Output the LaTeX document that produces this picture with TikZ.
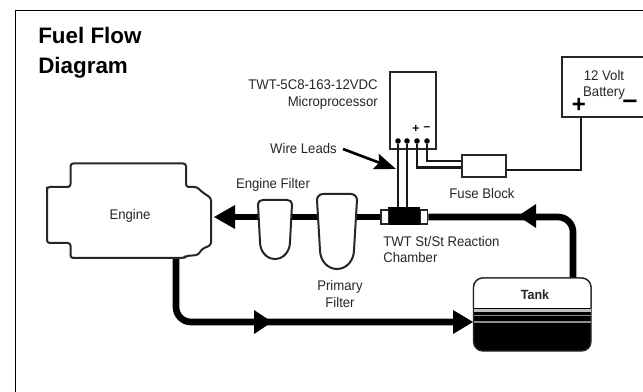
\documentclass[tikz,border=0pt]{standalone}
\usepackage{fontspec}
\setmainfont{Liberation Sans}
\newfontfamily\lblfont[FakeStretch=0.94]{Liberation Sans}
\usepackage{tikz}
\usetikzlibrary{calc,arrows.meta}
\tikzset{
	pipe/.style={line width=5pt,black},
	wire/.style={line width=1.8pt,black!90},
	outline/.style={line width=1.5pt,black!85},
	partbox/.style={draw=black!85,line width=1.5pt,fill=white,inner sep=0pt},
	lbl/.style={font=\lblfont\fontsize{10.5pt}{12.2pt}\selectfont,inner sep=0pt,text=black!85},
	flowhead/.style={fill=black,draw=none},
	termdot/.style={circle,fill=black,inner sep=0pt,minimum size=4.2pt}
}
\begin{document}
\begin{tikzpicture}[x=0.75pt,y=-0.75pt]
		\useasboundingbox (0,0) rectangle (643,392);
		
		%frame
		\draw [line width=1.2pt] (15.5,392) -- (15.5,10.5) -- (643,10.5);
		
		%title
		\node [anchor=north west,inner sep=0pt,align=left,font=\fontsize{16.8pt}{22.5pt}\selectfont\bfseries] (title) at (38,27) {Fuel Flow\\Diagram};
		
		%anchors of the fuel line
		\coordinate (enginein) at (214,217);
		\coordinate (engineout) at (176,256);
		\coordinate (tankin) at (473,322);
		\coordinate (tankout) at (573,279);
		
		%parts on the fuel line
		\node [minimum width=24pt,minimum height=13.5pt,fill=black,inner sep=0pt] (chamber) at (404,216) {};
		\node [partbox,line width=1pt,minimum width=5.5pt,minimum height=10.5pt] (capleft) at (384.5,217) {};
		\node [partbox,line width=1pt,minimum width=5.5pt,minimum height=10.5pt] (capright) at (424,217) {};
		\coordinate (filterone) at (257,200);
		\coordinate (filtertwo) at (317,194);
		
		%fuel line
		\draw [pipe] (capright.east) -- (535,217) -- (558,217) arc (-90:0:15) -- (tankout);
		\draw [pipe] (capleft.west) -- (232,217);
		\draw [pipe] (engineout) -- (176,307) arc (180:90:15) -- (455,322);
		\fill [flowhead] (enginein) -- (235,205) -- (235,229) -- cycle;
		\fill [flowhead] (518,216) -- (536,204) -- (536,228) -- cycle;
		\fill [flowhead] (272,322) -- (254,310) -- (254,334) -- cycle;
		\fill [flowhead] (tankin) -- (453,310) -- (453,334) -- cycle;
		
		%engine
		\draw [outline,fill=white,line join=round] (47,190) [rounded corners=2pt] -- (47,187) -- (70.5,187) -- (70.5,163.5) -- (186,163.5) -- (186,187) -- (197,187) -- (202,192) -- (211,198) -- (211,245) -- (202,249) -- (198,255) -- (186,256) -- (184,258) -- (70.5,258) -- (70.5,243) -- (47,243) -- cycle;
		\node [lbl] (engine) at (130,216) {Engine};
		
		%filters
		\draw [outline,fill=white] (filterone) ++(1,4) to[out=90,in=180] ++(5,-4) -- ++(24,0) to[out=0,in=90] ++(5,4) -- ++(-2,38) to[out=-90,in=0] ++(-15,17) to[out=180,in=-90] ++(-15,-17) -- cycle;
		\draw [outline,fill=white] (filtertwo) ++(0,6) to[out=90,in=180] ++(6,-6) -- ++(28,0) to[out=0,in=90] ++(6,6) -- ++(-3,50) to[out=-90,in=0] ++(-17,19) to[out=180,in=-90] ++(-17,-19) -- cycle;
		\node [lbl] (enginefilter) at (273,185) {Engine Filter};
		\node [lbl,align=center] (primaryfilter) at (340,294) {Primary\\Filter};
		\node [lbl,align=left,anchor=west] (chamberlabel) at (383,249.5) {TWT St/St Reaction\\Chamber};
		
		%microprocessor
		\node [partbox,anchor=north west,minimum width=34.5pt,minimum height=58pt] (micro) at (389,71) {};
		\foreach \x/\n in {398/a,407/b,417/c,427/d}
			\node [termdot] (lead\n) at (\x,141) {};
		\node [font=\bfseries\fontsize{9pt}{9pt}\selectfont,inner sep=0pt] (plus) at (416,129) {+};
		\node [font=\bfseries\fontsize{9pt}{9pt}\selectfont,inner sep=0pt] (minus) at (427,129) {--};
		\node [lbl,align=right,anchor=east] (microlabel) at (378,94.5) {TWT-5C8-163-12VDC\\Microprocessor};
		
		%battery
		\draw [outline] (643,57) -- (561.5,57) -- (561.5,117) -- (643,117);
		\coordinate (batteryplus) at (581,117);
		\node [lbl,align=center] (batterylabel) at (604,85) {12 Volt\\Battery};
		\node [font=\bfseries\fontsize{18pt}{18pt}\selectfont,inner sep=0pt] (plusmark) at (579,105) {+};
		\node [font=\bfseries\fontsize{20pt}{20pt}\selectfont,inner sep=0pt] (minusmark) at (630,104) {--};
		
		%fuse block and wiring
		\node [partbox,anchor=north west,minimum width=33pt,minimum height=16.5pt] (fuse) at (461,154) {};
		\node [lbl] (fuselabel) at (482,193) {Fuse Block};
		\draw [wire] (leada) -- (leada |- chamber.north);
		\draw [wire] (leadb) -- (leadb |- chamber.north);
		\draw [wire] (leadc) -- (417,167.5) -- (fuse.west |- 0,167.5);
		\draw [wire] (leadd) -- (427,161) -- (fuse.west |- 0,161);
		\draw [wire] (fuse.east |- 0,170) -- (batteryplus |- 0,170) -- (batteryplus);
		
		%wire leads pointer
		\node [lbl,anchor=east] (wirelabel) at (337,148) {Wire Leads};
		\coordinate (wiretip) at (396,169);
		\draw [line width=2pt,-{Stealth[length=16pt,width=12pt,inset=2.5pt]}] (343,149) -- (wiretip);
		
		%tank
		\draw [fill=black,draw=black!85,line width=1pt,rounded corners=7pt] (473.5,278) rectangle (591,351);
		\begin{scope}
			\clip [rounded corners=7pt] (473.5,278) rectangle (591,351);
			\fill [white] (473.5,278) rectangle (591,307.5);
			\fill [black!25] (473.5,309) rectangle (591,312);
			\fill [black!45] (473.5,314.5) rectangle (591,316);
			\fill [black!45] (473.5,321) rectangle (591,322.5);
		\end{scope}
		\draw [line width=1pt,black!85,rounded corners=7pt] (473.5,308) -- (473.5,278) -- (591,278) -- (591,308);
		\node [lbl,font=\lblfont\bfseries\fontsize{10pt}{12pt}\selectfont] (tank) at (535,295) {Tank};
\end{tikzpicture}
\end{document}
